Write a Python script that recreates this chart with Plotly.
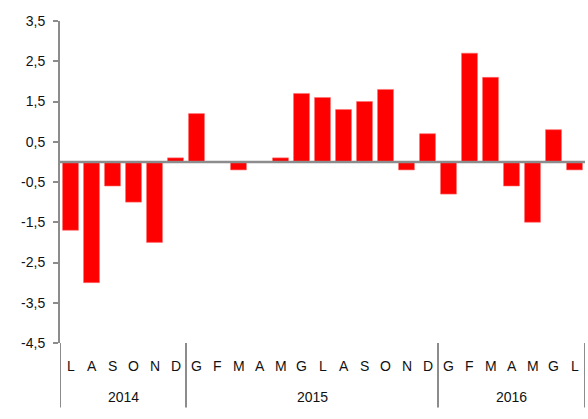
import plotly.graph_objects as go

months_2014 = ["L", "A", "S", "O", "N", "D"]
values_2014 = [-1.7, -3.0, -0.6, -1.0, -2.0, 0.1]
months_2015 = ["G", "F", "M", "A", "M", "G", "L", "A", "S", "O", "N", "D"]
values_2015 = [1.2, 0.0, -0.2, 0.0, 0.1, 1.7, 1.6, 1.3, 1.5, 1.8, -0.2, 0.7]
months_2016 = ["G", "F", "M", "A", "M", "G", "L"]
values_2016 = [-0.8, 2.7, 2.1, -0.6, -1.5, 0.8, -0.2]
years = ["2014", "2015", "2016"]
y_ticks = [-4.5, -3.5, -2.5, -1.5, -0.5, 0.5, 1.5, 2.5, 3.5]

groups = [months_2014, months_2015, months_2016]
labels = months_2014 + months_2015 + months_2016
values = values_2014 + values_2015 + values_2016
x = list(range(len(values)))

FONT = "Liberation Sans, Arial, sans-serif"
GRAY = "#8c8c8c"

fig = go.Figure()
fig.add_trace(go.Bar(
    x=x, y=values, width=0.76,
    marker=dict(color="#ff0000", line=dict(color="#ff7070", width=0.6)),
    showlegend=False, hoverinfo="skip",
))

shapes = []
annotations = []
# month labels
for i, lab in enumerate(labels):
    annotations.append(dict(x=i, y=-0.072, xref="x", yref="paper", text=lab,
                            showarrow=False, yanchor="middle",
                            font=dict(family=FONT, size=14, color="#111")))
# year labels and separators
start = 0
bounds = [-0.5]
for yr, g in zip(years, groups):
    end = start + len(g)
    annotations.append(dict(x=(start + end - 1) / 2, y=-0.168, xref="x", yref="paper",
                            text=yr, showarrow=False, yanchor="middle",
                            font=dict(family=FONT, size=14, color="#111")))
    bounds.append(end - 0.5)
    start = end
for b in bounds:
    shapes.append(dict(type="line", xref="x", yref="paper", x0=b, x1=b,
                       y0=-0.2, y1=0, line=dict(color=GRAY, width=2)))
# zero line
shapes.append(dict(type="line", xref="paper", yref="y", x0=0, x1=1, y0=0, y1=0,
                   line=dict(color=GRAY, width=2.5), layer="above"))

fig.update_layout(
    width=588, height=419,
    margin=dict(l=60, r=3, t=21, b=76, autoexpand=False),
    paper_bgcolor="white", plot_bgcolor="white",
    bargap=0.24,
    shapes=shapes, annotations=annotations,
    xaxis=dict(range=[-0.5, len(values) - 0.5], showticklabels=False,
               showgrid=False, zeroline=False, showline=False, ticks=""),
    yaxis=dict(range=[-4.5, 3.5], tickvals=y_ticks,
               ticktext=[f"{v:.1f}".replace(".", ",") for v in y_ticks],
               showgrid=False, zeroline=False, showline=True, linecolor=GRAY,
               linewidth=2, ticks="outside", ticklen=5, tickcolor=GRAY, tickwidth=2,
               ticklabelstandoff=5,
               tickfont=dict(family=FONT, size=14, color="#111")),
)
fig.write_html("out.html", config={"displayModeBar": False, "staticPlot": True},
               post_script="document.body.style.margin='0';document.body.style.overflow='hidden';")
